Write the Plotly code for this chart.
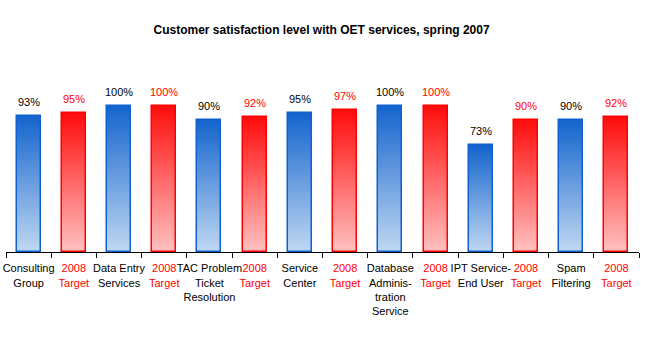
import plotly.graph_objects as go

categories = ["Consulting<br>Group", "2008<br>Target", "Data Entry<br>Services", "2008<br>Target",
              "TAC Problem<br>Ticket<br>Resolution", "2008<br>Target", "Service<br>Center", "2008<br>Target",
              "Database<br>Adminis-<br>tration<br>Service", "2008<br>Target", "IPT Service-<br>End User",
              "2008<br>Target", "Spam<br>Filtering", "2008<br>Target"]
values = [93, 95, 100, 100, 90, 92, 95, 97, 100, 100, 73, 90, 90, 92]
is_target = [False, True] * 7
value_labels = ["93%", "95%", "100%", "100%", "90%", "92%", "95%", "97%", "100%", "100%", "73%", "90%", "90%", "92%"]

BLUE_TOP = (20, 100, 205)
BLUE_BOT = (192, 216, 242)
RED_TOP = (255, 12, 12)
RED_BOT = (255, 194, 194)
N = 60
xs = list(range(len(values)))


def mix(a, b, t):
    return "rgb(%d,%d,%d)" % tuple(round(a[k] + (b[k] - a[k]) * t) for k in range(3))


fig = go.Figure()
for i in range(N):
    t = (i + 0.5) / N  # 0 bottom -> 1 top
    cols = [mix(RED_BOT, RED_TOP, t) if tg else mix(BLUE_BOT, BLUE_TOP, t) for tg in is_target]
    fig.add_trace(go.Bar(
        x=xs, y=[v / N * 1.02 if i < N - 1 else v / N for v in values],
        base=[v * i / N for v in values],
        width=0.53, marker=dict(color=cols, line=dict(width=0)),
        showlegend=False, hoverinfo="skip"))

fig.add_trace(go.Bar(
    x=xs, y=values, width=0.53,
    marker=dict(color="rgba(0,0,0,0)",
                line=dict(width=1.5, color=["#ff0000" if tg else "#1060d0" for tg in is_target])),
    showlegend=False, hoverinfo="skip"))

for x, v, lab, tg in zip(xs, values, value_labels, is_target):
    fig.add_annotation(x=x, y=v, text=lab, showarrow=False, yanchor="middle", yshift=14,
                       font=dict(family="Liberation Sans, Arial", size=11,
                                 color="#ff0000" if tg else "#000000"))


def colorize(lbl, tg):
    if not tg:
        return lbl
    return "<br>".join("<span style='color:#ff0000'>%s</span>" % p for p in lbl.split("<br>"))


ticktext = [colorize(c, t) for c, t in zip(categories, is_target)]

fig.update_layout(
    width=647, height=359,
    barmode="overlay", bargap=0,
    paper_bgcolor="white", plot_bgcolor="white",
    margin=dict(l=6, r=8, t=80, b=107, autoexpand=False),
    title=dict(text="<b>Customer satisfaction level with OET services, spring 2007</b>",
               x=0.497, xanchor="center", y=1 - 30 / 359, yanchor="middle", yref="container",
               font=dict(family="Liberation Sans, Arial", size=12, color="black")),
    font=dict(family="Liberation Sans, Arial", size=11, color="black"),
    xaxis=dict(range=[-0.5, 13.5], tickmode="array", tickvals=xs, ticktext=ticktext,
               tickangle=0, automargin=False, ticklabelstandoff=6,
               ticks="", showline=True, linecolor="black", linewidth=1, showgrid=False,
               zeroline=False, tickfont=dict(size=11, color="black"),
               minor=dict(tick0=-0.5, dtick=1, ticks="outside", ticklen=5, tickcolor="black",
                          tickwidth=1, showgrid=False)),
    yaxis=dict(range=[0, 117.5], visible=False, showgrid=False, zeroline=False, automargin=False),
)

fig.write_html("out.html", config={"displayModeBar": False},
               post_script="document.body.style.margin='0px';")
